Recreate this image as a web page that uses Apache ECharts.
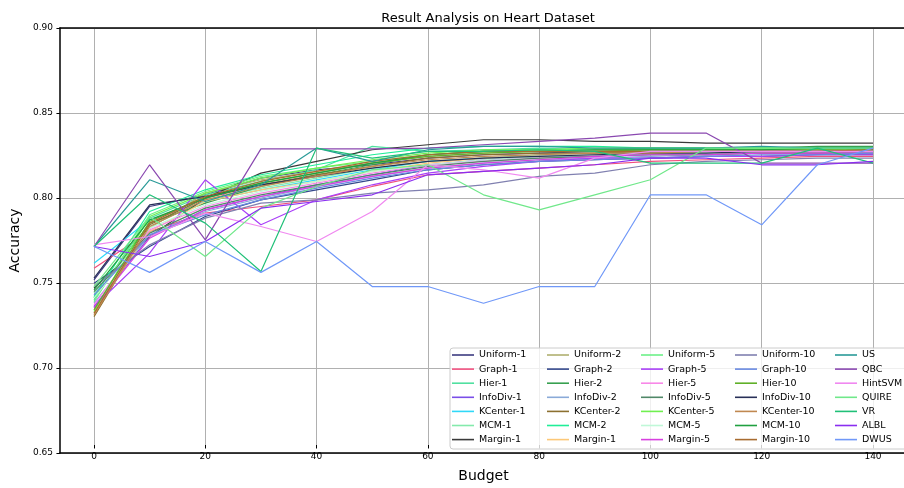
<!DOCTYPE html>
<html>
<head>
<meta charset="utf-8">
<script src="https://cdn.jsdelivr.net/npm/echarts@6/dist/echarts.min.js"></script>
<style>
html, body { margin: 0; padding: 0; background: #fff; }
#container { width: 904px; height: 488px; }
</style>
</head>
<body>
<div id="container"></div>
<script>
var budgets = [0, 10, 20, 30, 40, 50, 60, 70, 80, 90, 100, 110, 120, 130, 140];
var yTicks = [0.65, 0.70, 0.75, 0.80, 0.85, 0.90];

var uniform1  = [0.749, 0.793, 0.800, 0.810, 0.815, 0.818, 0.822, 0.824, 0.825, 0.826, 0.826, 0.827, 0.827, 0.828, 0.828];
var graph1    = [0.756, 0.778, 0.789, 0.793, 0.797, 0.805, 0.812, 0.814, 0.816, 0.818, 0.820, 0.821, 0.822, 0.823, 0.823];
var hier1     = [0.737, 0.786, 0.800, 0.808, 0.815, 0.829, 0.826, 0.827, 0.828, 0.827, 0.827, 0.828, 0.828, 0.828, 0.828];
var infoDiv1  = [0.733, 0.775, 0.791, 0.799, 0.806, 0.812, 0.818, 0.821, 0.823, 0.824, 0.825, 0.825, 0.826, 0.826, 0.827];
var kCenter1  = [0.759, 0.785, 0.796, 0.803, 0.809, 0.815, 0.820, 0.822, 0.823, 0.823, 0.824, 0.825, 0.825, 0.826, 0.826];
var mcm1      = [0.741, 0.781, 0.797, 0.804, 0.810, 0.816, 0.820, 0.822, 0.824, 0.825, 0.826, 0.826, 0.827, 0.827, 0.827];
var margin1   = [0.744, 0.775, 0.798, 0.813, 0.820, 0.827, 0.830, 0.833, 0.833, 0.832, 0.832, 0.831, 0.831, 0.831, 0.831];
var uniform2  = [0.729, 0.780, 0.801, 0.809, 0.814, 0.819, 0.823, 0.825, 0.826, 0.826, 0.826, 0.827, 0.827, 0.827, 0.828];
var graph2    = [0.747, 0.769, 0.787, 0.797, 0.803, 0.809, 0.815, 0.818, 0.820, 0.821, 0.822, 0.823, 0.823, 0.824, 0.824];
var hier2     = [0.738, 0.783, 0.795, 0.805, 0.812, 0.818, 0.824, 0.826, 0.827, 0.827, 0.828, 0.828, 0.828, 0.829, 0.829];
var infoDiv2  = [0.735, 0.776, 0.790, 0.798, 0.805, 0.811, 0.816, 0.819, 0.821, 0.822, 0.823, 0.824, 0.825, 0.825, 0.826];
var kCenter2  = [0.727, 0.782, 0.798, 0.806, 0.812, 0.817, 0.822, 0.824, 0.825, 0.825, 0.826, 0.826, 0.826, 0.826, 0.827];
var mcm2      = [0.739, 0.790, 0.803, 0.812, 0.818, 0.824, 0.828, 0.829, 0.829, 0.829, 0.828, 0.828, 0.828, 0.828, 0.828];
var margin1b  = [0.731, 0.778, 0.796, 0.803, 0.808, 0.814, 0.819, 0.822, 0.823, 0.824, 0.825, 0.825, 0.825, 0.826, 0.826];
var uniform5  = [0.736, 0.788, 0.802, 0.811, 0.816, 0.820, 0.824, 0.826, 0.827, 0.827, 0.827, 0.827, 0.828, 0.828, 0.828];
var graph5    = [0.733, 0.765, 0.809, 0.782, 0.797, 0.806, 0.813, 0.817, 0.820, 0.822, 0.822, 0.823, 0.823, 0.824, 0.824];
var hier5     = [0.734, 0.779, 0.793, 0.801, 0.807, 0.813, 0.818, 0.820, 0.822, 0.823, 0.824, 0.825, 0.825, 0.825, 0.826];
var infoDiv5  = [0.742, 0.777, 0.792, 0.800, 0.806, 0.812, 0.817, 0.820, 0.822, 0.823, 0.824, 0.824, 0.825, 0.825, 0.825];
var kCenter5  = [0.730, 0.787, 0.801, 0.810, 0.816, 0.821, 0.825, 0.827, 0.827, 0.828, 0.828, 0.828, 0.828, 0.828, 0.828];
var mcm5      = [0.738, 0.780, 0.794, 0.802, 0.808, 0.814, 0.818, 0.821, 0.823, 0.824, 0.825, 0.825, 0.826, 0.826, 0.826];
var margin5   = [0.732, 0.774, 0.791, 0.799, 0.805, 0.811, 0.816, 0.819, 0.821, 0.823, 0.824, 0.824, 0.825, 0.825, 0.825];
var uniform10 = [0.745, 0.770, 0.786, 0.795, 0.797, 0.801, 0.803, 0.806, 0.811, 0.813, 0.818, 0.820, 0.821, 0.822, 0.822];
var graph10   = [0.740, 0.776, 0.788, 0.797, 0.804, 0.810, 0.815, 0.818, 0.820, 0.821, 0.822, 0.823, 0.824, 0.824, 0.825];
var hier10    = [0.731, 0.784, 0.799, 0.807, 0.813, 0.819, 0.823, 0.825, 0.826, 0.826, 0.827, 0.827, 0.827, 0.827, 0.827];
var infoDiv10 = [0.750, 0.794, 0.799, 0.806, 0.811, 0.816, 0.820, 0.822, 0.823, 0.824, 0.825, 0.825, 0.826, 0.826, 0.826];
var kCenter10 = [0.728, 0.781, 0.797, 0.805, 0.811, 0.817, 0.821, 0.823, 0.824, 0.825, 0.825, 0.826, 0.826, 0.826, 0.826];
var mcm10     = [0.743, 0.785, 0.798, 0.807, 0.813, 0.819, 0.824, 0.826, 0.826, 0.827, 0.827, 0.827, 0.827, 0.828, 0.828];
var margin10  = [0.729, 0.783, 0.799, 0.808, 0.814, 0.820, 0.824, 0.826, 0.826, 0.826, 0.826, 0.826, 0.826, 0.826, 0.827];
var us        = [0.769, 0.809, 0.796, 0.806, 0.828, 0.820, 0.827, 0.829, 0.829, 0.828, 0.828, 0.828, 0.829, 0.828, 0.828];
var qbc       = [0.769, 0.818, 0.773, 0.8275, 0.8275, 0.8275, 0.828, 0.830, 0.832, 0.834, 0.837, 0.837, 0.819, 0.819, 0.819];
var hintSvm   = [0.770, 0.775, 0.789, 0.781, 0.772, 0.790, 0.818, 0.815, 0.810, 0.822, 0.826, 0.826, 0.826, 0.826, 0.826];
var quire     = [0.745, 0.787, 0.763, 0.792, 0.805, 0.815, 0.818, 0.800, 0.791, 0.800, 0.809, 0.828, 0.828, 0.828, 0.828];
var vr        = [0.769, 0.800, 0.783, 0.754, 0.828, 0.822, 0.826, 0.826, 0.827, 0.826, 0.819, 0.819, 0.819, 0.828, 0.819];
var albl      = [0.769, 0.763, 0.772, 0.792, 0.796, 0.800, 0.812, 0.814, 0.816, 0.818, 0.822, 0.822, 0.818, 0.818, 0.820];
var dwus      = [0.769, 0.7535, 0.772, 0.7535, 0.772, 0.745, 0.745, 0.735, 0.745, 0.745, 0.800, 0.800, 0.782, 0.818, 0.828];

// the second "Margin-1" has a trailing space so the legend keeps both entries
var names = [
    'Uniform-1', 'Graph-1', 'Hier-1', 'InfoDiv-1', 'KCenter-1', 'MCM-1', 'Margin-1',
    'Uniform-2', 'Graph-2', 'Hier-2', 'InfoDiv-2', 'KCenter-2', 'MCM-2', 'Margin-1 ',
    'Uniform-5', 'Graph-5', 'Hier-5', 'InfoDiv-5', 'KCenter-5', 'MCM-5', 'Margin-5',
    'Uniform-10', 'Graph-10', 'Hier-10', 'InfoDiv-10', 'KCenter-10', 'MCM-10', 'Margin-10',
    'US', 'QBC', 'HintSVM', 'QUIRE', 'VR', 'ALBL', 'DWUS'
];
var colors = [
    '#3d3b80', '#f0507e', '#50e0a0', '#7a4ee8', '#30d8f8', '#84eaac', '#3a3a3a',
    '#b0b070', '#34488c', '#38a050', '#8aaad8', '#8c7030', '#20ee98', '#fcc878',
    '#6cf088', '#aa40f8', '#f888e8', '#508868', '#70f050', '#c0f8d8', '#d840e0',
    '#8080b0', '#6888e0', '#60b028', '#283058', '#c08850', '#20a040', '#a86c30',
    '#2a9a98', '#8a48b0', '#f088f0', '#70e88a', '#20c078', '#8a2ef0', '#7098f8'
];
var values = [
    uniform1, graph1, hier1, infoDiv1, kCenter1, mcm1, margin1,
    uniform2, graph2, hier2, infoDiv2, kCenter2, mcm2, margin1b,
    uniform5, graph5, hier5, infoDiv5, kCenter5, mcm5, margin5,
    uniform10, graph10, hier10, infoDiv10, kCenter10, mcm10, margin10,
    us, qbc, hintSvm, quire, vr, albl, dwus
];

var FONT = 'DejaVu Sans';

function buildSeries() {
    var list = [];
    for (var i = 0; i < names.length; i++) {
        var vals = values[i];
        list.push({
            name: names[i],
            type: 'line',
            xAxisIndex: 2,
            yAxisIndex: 1,
            symbol: 'none',
            silent: true,
            color: colors[i],
            lineStyle: { width: 1.2, color: colors[i] },
            data: budgets.map(function (b, k) { return [b, vals[k]]; })
        });
    }
    return list;
}

// five legend columns, seven entries each (matplotlib fills column-wise)
function buildLegends() {
    var colX = [452, 547, 641, 735, 835];
    var list = [];
    for (var c = 0; c < 5; c++) {
        list.push({
            orient: 'vertical',
            left: colX[c],
            top: 348,
            padding: 0,
            itemGap: 0.1,
            itemWidth: 22,
            itemHeight: 1.6,
            icon: 'rect',
            selectedMode: false,
            z: 5,
            textStyle: { fontFamily: FONT, fontSize: 9.5, color: '#000', lineHeight: 14 },
            data: names.slice(c * 7, c * 7 + 7)
        });
    }
    return list;
}

var charts = echarts.init(document.getElementById('container'), null, { renderer: 'canvas' });

var option = {
    animation: false,
    backgroundColor: '#fff',
    title: {
        text: 'Result Analysis on Heart Dataset',
        left: 483,
        top: 7,
        textAlign: 'center',
        textStyle: { fontFamily: FONT, fontSize: 13, fontWeight: 'normal', color: '#000' }
    },
    grid: [
        { left: 55, right: 0, top: 28, bottom: 35 },   // frame + y axis
        { left: 94, right: 31, top: 28, bottom: 35 }   // data area, 0..140
    ],
    xAxis: [
        {
            gridIndex: 0, type: 'value', min: 0, max: 1, position: 'bottom',
            axisLine: { show: true, lineStyle: { color: '#000', width: 1.5 } },
            axisTick: { show: false }, axisLabel: { show: false }, splitLine: { show: false }
        },
        {
            gridIndex: 0, type: 'value', min: 0, max: 1, position: 'top',
            axisLine: { show: true, lineStyle: { color: '#000', width: 1.5 } },
            axisTick: { show: false }, axisLabel: { show: false }, splitLine: { show: false }
        },
        {
            gridIndex: 1, type: 'value', min: 0, max: 140, interval: 20,
            name: 'Budget', nameLocation: 'middle', nameGap: 24,
            nameTextStyle: { fontFamily: FONT, fontSize: 14, color: '#000' },
            axisLine: { show: false },
            axisTick: { show: true, length: 3.5, lineStyle: { color: '#000', width: 1 } },
            axisLabel: { fontFamily: FONT, fontSize: 9, color: '#000', margin: 7 },
            splitLine: { show: true, lineStyle: { color: '#b0b0b0', width: 1 } }
        }
    ],
    yAxis: [
        {
            gridIndex: 0, type: 'value', min: yTicks[0], max: yTicks[yTicks.length - 1], interval: 0.05,
            name: 'Accuracy', nameLocation: 'middle', nameGap: 32,
            nameTextStyle: { fontFamily: FONT, fontSize: 14, color: '#000' },
            axisLine: { show: true, lineStyle: { color: '#000', width: 1.5 } },
            axisTick: { show: true, length: 3.5, lineStyle: { color: '#000', width: 1 } },
            axisLabel: {
                fontFamily: FONT, fontSize: 9, color: '#000', margin: 7,
                formatter: function (v) { return v.toFixed(2); }
            },
            splitLine: { show: true, lineStyle: { color: '#b0b0b0', width: 1 } }
        },
        {
            gridIndex: 1, type: 'value', min: yTicks[0], max: yTicks[yTicks.length - 1], show: false
        }
    ],
    legend: buildLegends(),
    graphic: [
        {
            type: 'rect',
            z: 3,
            shape: { x: 450, y: 348, width: 470, height: 101, r: 3 },
            style: { fill: 'rgba(255,255,255,0.8)', stroke: '#cccccc', lineWidth: 1 }
        }
    ],
    series: buildSeries()
};

charts.setOption(option, true);
</script>
</body>
</html>
